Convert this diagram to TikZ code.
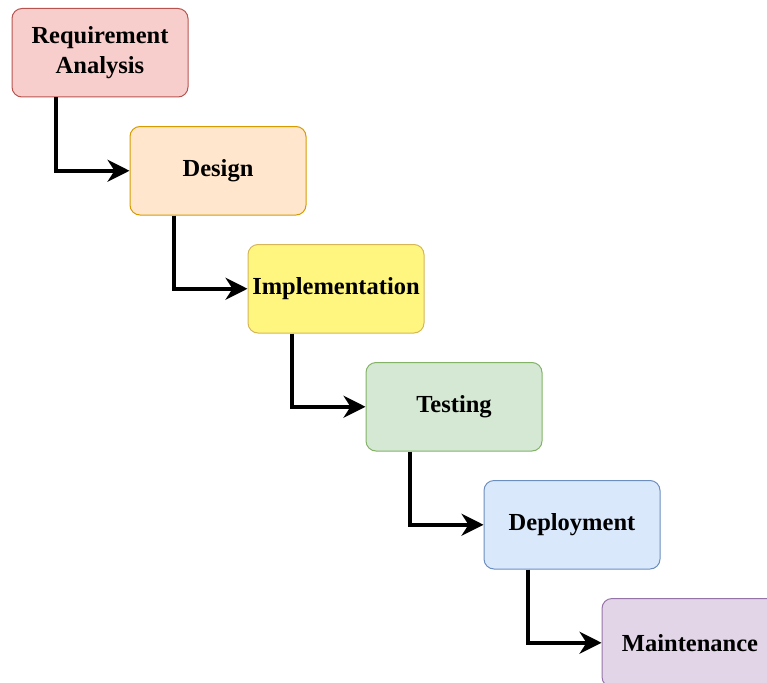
\documentclass[tikz,border=0pt]{standalone}
\usepackage{fontspec}
\setmainfont{Liberation Serif}
\usetikzlibrary{arrows.meta}
\definecolor{rF}{HTML}{F8CECC}\definecolor{rS}{HTML}{B85450}
\definecolor{oF}{HTML}{FFE6CC}\definecolor{oS}{HTML}{D79B00}
\definecolor{yF}{HTML}{FFF680}\definecolor{yS}{HTML}{D6B656}
\definecolor{gF}{HTML}{D5E8D4}\definecolor{gS}{HTML}{82B366}
\definecolor{bF}{HTML}{DAE8FC}\definecolor{bS}{HTML}{6C8EBF}
\definecolor{pF}{HTML}{E1D5E7}\definecolor{pS}{HTML}{9673A6}
\tikzset{
  phase/.style={draw, rounded corners=10pt, line width=1pt, minimum width=176pt, minimum height=88.5pt, inner sep=0pt, align=center, font=\fontsize{24.5}{30}\selectfont\bfseries},
  flow/.style={line width=3.5pt, -{Stealth[length=22pt,width=22pt,inset=7pt]}}
}
\begin{document}
\begin{tikzpicture}[x=1pt,y=-1pt]
\useasboundingbox (0,0) rectangle (767,682);
\node[phase, fill=rF, draw=rS] (req) at (100,52.75) {Requirement\\Analysis};
\node[phase, fill=oF, draw=oS] (des) at (218,170.75) {Design};
\node[phase, fill=yF, draw=yS] (imp) at (336,288.75) {Implementation};
\node[phase, fill=gF, draw=gS] (tst) at (454,406.75) {Testing};
\node[phase, fill=bF, draw=bS] (dep) at (572,524.75) {Deployment};
\node[phase, fill=pF, draw=pS] (mnt) at (690,642.75) {Maintenance};
\draw[flow] ([xshift=-44pt]req.south) |- (des.west);
\draw[flow] ([xshift=-44pt]des.south) |- (imp.west);
\draw[flow] ([xshift=-44pt]imp.south) |- (tst.west);
\draw[flow] ([xshift=-44pt]tst.south) |- (dep.west);
\draw[flow] ([xshift=-44pt]dep.south) |- (mnt.west);
\end{tikzpicture}
\end{document}
